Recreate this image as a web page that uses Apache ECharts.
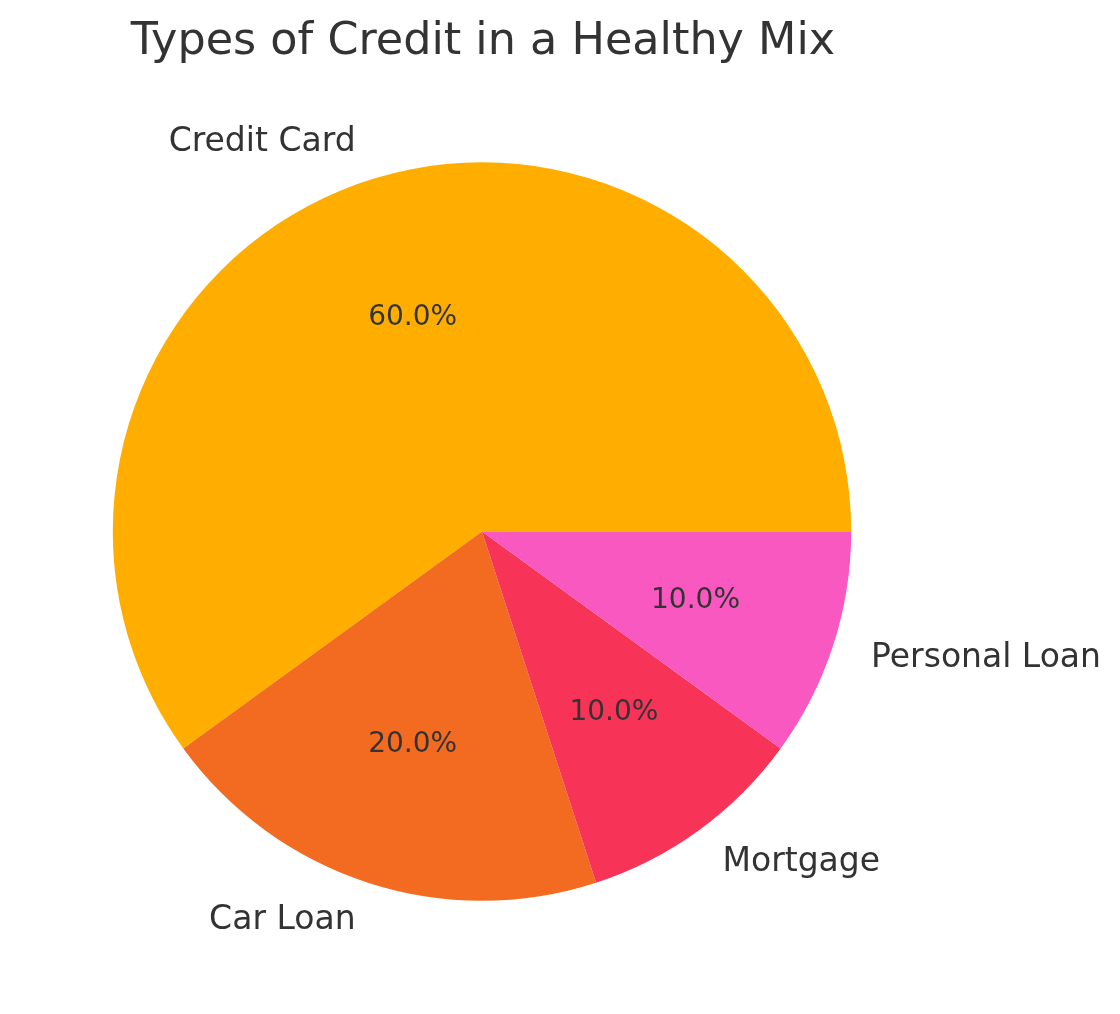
<!DOCTYPE html>
<html>
<head>
<meta charset="utf-8">
<script src="https://cdn.jsdelivr.net/npm/echarts@6/dist/echarts.min.js"></script>
<style>
html,body{margin:0;padding:0;background:#fff;}
#main{width:1120px;height:1014px;}
</style>
</head>
<body>
<div id="main"></div>
<script>
const categories = ['Credit Card', 'Car Loan', 'Mortgage', 'Personal Loan'];
const values = [60, 20, 10, 10];
const colors = ['#FFAE00', '#F36B21', '#F73357', '#F958C0'];
const titleText = 'Types of Credit in a Healthy Mix';

const CX = 482, CY = 531.5, R = 369.2;
const font = 'DejaVu Sans';
const data = categories.map((c, i) => ({ name: c, value: values[i] }));
const common = {
  type: 'pie',
  center: [CX + 'px', CY + 'px'],
  startAngle: 0,
  clockwise: false,
  avoidLabelOverlap: false,
  labelLine: { show: false },
  emphasis: { disabled: true },
  animation: false
};
const chart = echarts.init(document.getElementById('main'));
chart.setOption({
  backgroundColor: '#ffffff',
  title: {
    text: titleText,
    left: CX - 4, top: 15,
    textAlign: 'center',
    textStyle: { fontFamily: font, fontSize: 44.5, fontWeight: 'normal', color: '#333333' }
  },
  series: [
    Object.assign({}, common, {
      radius: [0, R],
      data: data.map((d, i) => Object.assign({}, d, { itemStyle: { color: colors[i], borderWidth: 0 } })),
      label: { show: false }
    }),
    Object.assign({}, common, {
      radius: [0, R * 1.2],
      silent: true,
      z: 3,
      data: data.map(d => Object.assign({}, d, { itemStyle: { color: 'rgba(0,0,0,0)', borderWidth: 0 } })),
      label: {
        show: true, position: 'inside',
        fontFamily: font, fontSize: 28, color: '#333333',
        formatter: p => p.percent.toFixed(1) + '%'
      }
    }),
    Object.assign({}, common, {
      radius: [R, R * 1.2],
      silent: true,
      z: 3,
      data: data.map(d => Object.assign({}, d, { itemStyle: { color: 'rgba(0,0,0,0)', borderWidth: 0 } })),
      label: {
        show: true, position: 'inside',
        fontFamily: font, fontSize: 33, color: '#333333',
        formatter: p => p.name
      },
      labelLayout: function (params) {
        const r = params.labelRect;
        const cx = r.x + r.width / 2, cy = r.y + r.height / 2;
        return { x: cx, y: cy, align: cx > CX ? 'left' : 'right', verticalAlign: 'middle', hideOverlap: false };
      }
    })
  ]
});
</script>
</body>
</html>
